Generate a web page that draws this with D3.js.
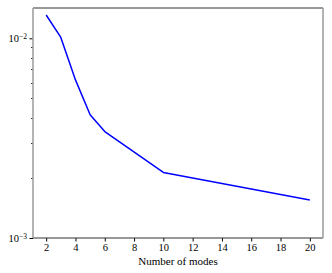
<!DOCTYPE html>
<html>
<head>
<meta charset="utf-8">
<script src="https://cdn.jsdelivr.net/npm/d3@7"></script>
<style>
  body { margin: 0; background: #fff; }
  text { font-family: "Liberation Serif", "DejaVu Serif", serif; fill: #000; }
</style>
</head>
<body>
<svg id="chart" width="332" height="273"></svg>
<script>
// values
const modes = [2, 3, 4, 5, 6, 10, 20];
const errors = [0.01308, 0.0101, 0.00619, 0.00414, 0.00341, 0.00213, 0.00155];
const xTicks = [2, 4, 6, 8, 10, 12, 14, 16, 18, 20];
const yMajor = [0.001, 0.01];
const yMinor = [0.002, 0.003, 0.004, 0.005, 0.006, 0.007, 0.008, 0.009];

const padLeft = 33, padRight = 323, padTop = 8, padBottom = 238;

var x = d3.scaleLinear().domain([1.1, 20.9]).range([padLeft, padRight]);
var y = d3.scaleLog().domain([0.001, 0.01418]).range([padBottom, padTop]);

var svg = d3.select("#chart");

// x axis
var xAxis = svg.append("g")
    .attr("transform", "translate(0," + padBottom + ")")
    .call(d3.axisBottom(x).tickValues(xTicks).tickSize(3.5).tickPadding(2).tickFormat(d3.format("d")));
xAxis.select(".domain").remove();
xAxis.selectAll("text").style("font-size", "10.5px")
    .style("font-family", "Liberation Serif, serif");

// y axis, log scale with minor ticks
var yAxis = svg.append("g")
    .attr("transform", "translate(" + padLeft + ",0)")
    .call(d3.axisLeft(y).tickValues(yMajor).tickSize(3.5).tickPadding(3).tickFormat(""));
yAxis.select(".domain").remove();

yAxis.selectAll(".tick").each(function(d) {
    var t = d3.select(this).append("text")
        .attr("x", -6)
        .attr("dy", "0.32em")
        .attr("text-anchor", "end")
        .style("font-size", "10.5px")
        .style("font-family", "Liberation Serif, serif");
    t.append("tspan").text("10");
    t.append("tspan").attr("dy", "-0.45em").style("font-size", "7.5px")
        .text("\u2212" + Math.round(-Math.log10(d)));
});

svg.append("g")
    .selectAll("line")
    .data(yMinor)
    .enter()
  .append("line")
    .attr("x1", padLeft - 2)
    .attr("x2", padLeft)
    .attr("y1", d => Math.round(y(d)) + 0.5)
    .attr("y2", d => Math.round(y(d)) + 0.5)
    .attr("stroke", "#000")
    .attr("stroke-width", 0.8);

// frame
svg.append("line").attr("x1", padLeft).attr("x2", padRight).attr("y1", padTop).attr("y2", padTop)
    .attr("stroke", "#333").attr("stroke-width", 1);
svg.append("line").attr("x1", padLeft).attr("x2", padRight).attr("y1", padBottom).attr("y2", padBottom)
    .attr("stroke", "#333").attr("stroke-width", 1);
svg.append("line").attr("x1", padLeft).attr("x2", padLeft).attr("y1", padTop).attr("y2", padBottom)
    .attr("stroke", "#a0a0a0").attr("stroke-width", 1.6);
svg.append("line").attr("x1", padRight).attr("x2", padRight).attr("y1", padTop).attr("y2", padBottom)
    .attr("stroke", "#a0a0a0").attr("stroke-width", 1.6);

// series
var line = d3.line()
    .x((d, i) => x(modes[i]))
    .y(d => y(d));

svg.append("path")
    .datum(errors)
    .attr("fill", "none")
    .attr("stroke", "#0000ff")
    .attr("stroke-width", 1.5)
    .attr("stroke-linejoin", "round")
    .attr("d", line);

svg.append("text")
    .attr("x", (padLeft + padRight) / 2)
    .attr("y", 265)
    .attr("text-anchor", "middle")
    .style("font-size", "11px")
    .text("Number of modes");
</script>
</body>
</html>
